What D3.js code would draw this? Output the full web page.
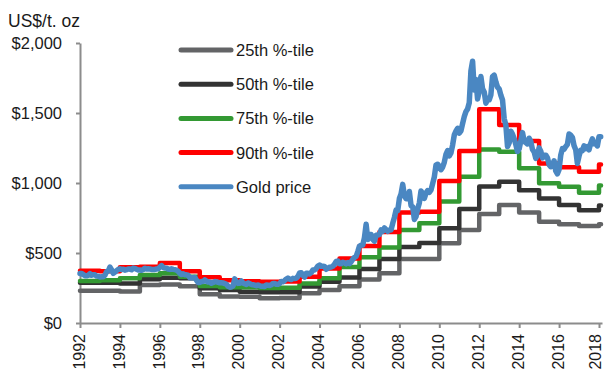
<!DOCTYPE html>
<html><head><meta charset="utf-8">
<script src="https://cdn.jsdelivr.net/npm/d3@7"></script>
<style>
body{margin:0;background:#fff;}
text{font-family:"Liberation Sans",Arial,sans-serif;fill:#1a1a1a;}
</style>
</head><body>
<svg id="c" width="605" height="371"></svg>
<script>
// ---- data ----
const stepYears = [1992,1993,1994,1995,1996,1997,1998,1999,2000,2001,2002,2003,2004,2005,2006,2007,2008,2009,2010,2011,2012,2013,2014,2015,2016,2017,2018];
const stepEnd = 2018.1;
const p25 = [231,231,225,271,275,262,205,190,188,176,178,212,236,262,310,355,458,458,570,665,779,843,790,724,705,693,705];
const p50 = [288,288,283,312,324,320,248,236,224,219,219,260,295,325,385,458,542,572,676,815,975,1009,948,890,843,805,840];
const p75 = [300,305,320,343,355,330,265,255,255,250,252,283,319,400,470,540,664,712,867,1045,1240,1224,1105,998,974,931,983];
const p90 = [374,370,398,402,428,370,326,305,298,295,296,330,390,460,550,650,790,795,1015,1228,1526,1414,1300,1140,1112,1081,1133];

// monthly gold price, US$/oz, starting Jan 1992
const goldStart = 1992;
const gold = [
354,354,345,338,337,341,353,341,345,344,335,334,
329,330,330,342,367,371,400,379,355,364,374,383,
387,382,384,377,381,386,385,380,392,390,384,379,
379,377,382,391,385,387,386,383,383,383,386,387,
400,410,396,393,392,385,383,387,383,381,378,369,
355,346,352,344,344,341,324,324,323,325,306,289,
289,297,296,308,299,292,293,284,289,296,294,291,
287,287,286,282,277,262,256,257,265,315,293,283,
284,300,286,280,275,286,282,275,273,270,266,272,
266,262,263,261,272,270,268,273,283,283,276,276,
282,296,294,303,314,321,314,310,319,317,319,333,
357,359,340,328,355,356,351,360,379,379,389,407,
414,405,406,404,384,392,398,400,405,420,439,442,
424,423,434,429,422,431,424,438,456,469,476,510,
549,555,557,610,705,596,633,632,598,585,627,629,
631,665,655,679,667,655,665,665,712,754,806,803,
889,922,990,909,888,889,939,839,829,740,760,816,
858,943,924,890,928,946,934,949,996,1043,1127,1134,
1118,1095,1113,1148,1205,1232,1193,1215,1271,1343,1370,1391,
1356,1372,1424,1474,1510,1529,1573,1800,1870,1665,1740,1600,
1656,1760,1673,1650,1570,1596,1594,1630,1760,1770,1722,1685,
1671,1627,1593,1460,1414,1260,1286,1370,1349,1316,1275,1225,
1244,1300,1360,1299,1288,1279,1320,1296,1239,1222,1176,1200,
1251,1227,1179,1198,1199,1181,1131,1117,1125,1159,1086,1065,
1097,1199,1246,1242,1260,1276,1350,1341,1326,1267,1238,1140,
1192,1234,1231,1266,1246,1260,1237,1283,1315,1280,1282,1265,
1331,1331];

const seriesNames = ["25th %-tile","50th %-tile","75th %-tile","90th %-tile","Gold price"];
const seriesColors = ["#636466","#333333","#339933","#ff0000","#4a87c2"];
const yTicks = [0,500,1000,1500,2000];
const xTicks = [1992,1994,1996,1998,2000,2002,2004,2006,2008,2010,2012,2014,2016,2018];
const yTitle = "US$/t. oz";

// ---- chart ----
const svg = d3.select("#c");
const x = d3.scaleLinear().domain([1992, 2018.15]).range([80, 602]);
const y = d3.scaleLinear().domain([0, 2000]).range([323, 43]);

// axes
const yAxis = svg.append("g").attr("transform","translate(80,0)")
  .call(d3.axisLeft(y).tickValues(yTicks).tickSize(4).tickSizeOuter(0).tickPadding(14)
    .tickFormat(d => "$" + d3.format(",")(d)));
const xAxis = svg.append("g").attr("transform","translate(0,323)")
  .call(d3.axisBottom(x).tickValues(xTicks).tickSize(5).tickSizeOuter(0).tickFormat(d3.format("d")));
[yAxis, xAxis].forEach(g => {
  g.select(".domain").attr("stroke","#8c8c8c").attr("stroke-width",2);
  g.selectAll(".tick line").attr("stroke","#8c8c8c").attr("stroke-width",2);
  g.selectAll("text").style("font-size","16.5px").attr("fill","#1a1a1a");
});
xAxis.selectAll(".tick text")
  .style("font-size","16px")
  .attr("transform","rotate(-90)")
  .attr("text-anchor","end")
  .attr("x",-11)
  .attr("y",(d,i,n) => i === n.length-1 ? -3 : 0)
  .attr("dy","0.26em");

svg.append("text").attr("x",8).attr("y",27).style("font-size","17.5px").text(yTitle);

// step series
const stepLine = d3.line().curve(d3.curveStepAfter).x(d => x(d[0])).y(d => y(d[1]));
[p25,p50,p75,p90].forEach((vals, k) => {
  const pts = stepYears.map((yr,i) => [yr, vals[i]]);
  pts.push([stepEnd, vals[vals.length-1]]);
  svg.append("path").datum(pts)
    .attr("fill","none").attr("stroke",seriesColors[k]).attr("stroke-width",4.5)
    .attr("stroke-linejoin","round").attr("stroke-linecap","round")
    .attr("d", stepLine);
});

// gold price
const goldLine = d3.line().x((d,i) => x(goldStart + i/12)).y(d => y(d));
svg.append("path").datum(gold)
  .attr("fill","none").attr("stroke",seriesColors[4]).attr("stroke-width",5.5)
  .attr("stroke-linejoin","round").attr("stroke-linecap","round")
  .attr("d", goldLine);

// legend
const leg = svg.append("g");
seriesNames.forEach((name, i) => {
  const ry = 50 + i*34.2;
  leg.append("line").attr("x1",181).attr("x2",231).attr("y1",ry).attr("y2",ry)
    .attr("stroke",seriesColors[i]).attr("stroke-width",5).attr("stroke-linecap","round");
  leg.append("text").attr("x",236).attr("y",ry).attr("dy","0.36em")
    .style("font-size","16.5px").text(name);
});
</script>
</body></html>
